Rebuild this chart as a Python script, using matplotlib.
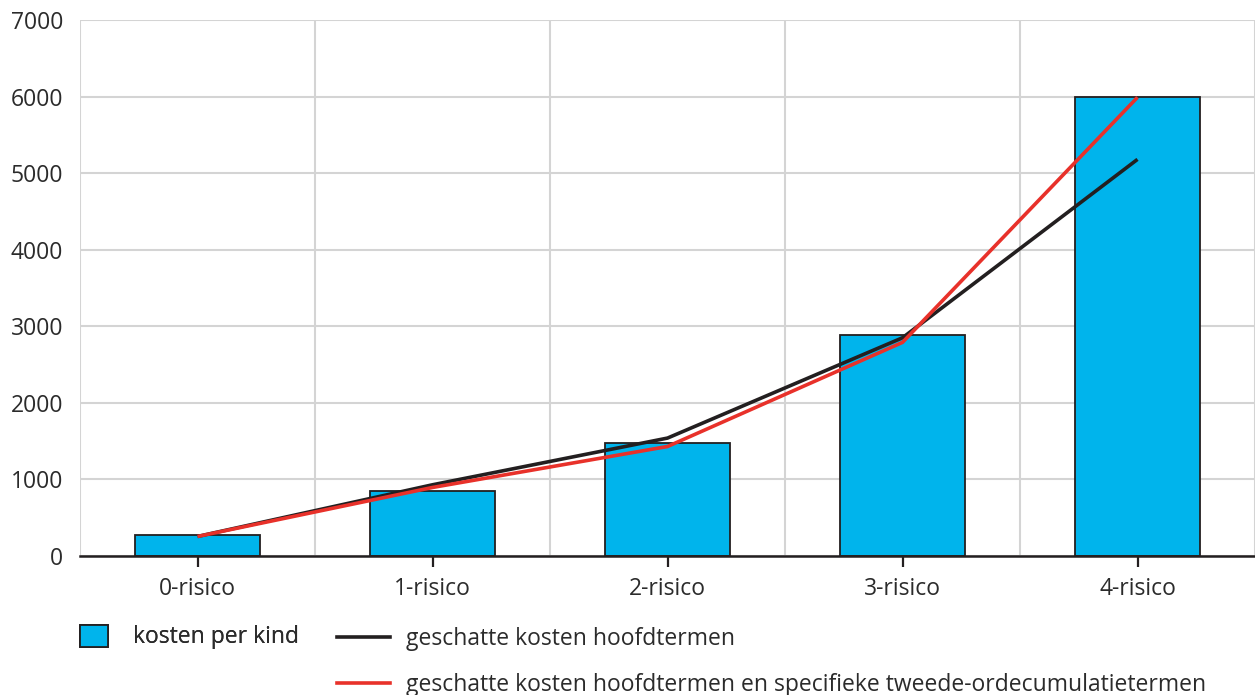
import matplotlib.pyplot as plt
from matplotlib.patches import Patch
from matplotlib.lines import Line2D
import numpy as np

plt.rcParams['font.family'] = ['Open Sans', 'DejaVu Sans']

# Data
categories = ['0-risico', '1-risico', '2-risico', '3-risico', '4-risico']
kosten_per_kind = [275, 850, 1475, 2880, 5990]
hoofdtermen = [255, 930, 1540, 2850, 5180]
tweede_orde = [255, 895, 1430, 2790, 5990]

bar_color = '#00b4ec'
black = '#231f20'
red = '#e8312a'
grid_color = '#d4d4d4'
text_color = '#2b2b2b'
fs = 16.5

fig = plt.figure(figsize=(12.55, 6.95), dpi=100)
ax = fig.add_axes([80 / 1255, 1 - 556 / 695, 1 - 80 / 1255, (556 - 20) / 695])

x = np.arange(len(categories))
ax.bar(x, kosten_per_kind, width=0.53, color=bar_color, edgecolor=black,
       linewidth=1.3, zorder=2)
ax.plot(x, hoofdtermen, color=black, linewidth=2.6, zorder=3,
        solid_capstyle='butt')
ax.plot(x, tweede_orde, color=red, linewidth=2.6, zorder=4,
        solid_capstyle='butt')

ax.set_xlim(-0.5, 4.485)
ax.set_ylim(0, 7000)
ax.set_yticks(range(0, 7001, 1000))
ax.set_xticks(x)
ax.set_xticklabels(categories)
ax.set_xticks(np.arange(-0.5, 4.6, 1), minor=True)

ax.grid(True, axis='y', color=grid_color, linewidth=1.5, zorder=0)
ax.grid(True, axis='x', which='minor', color=grid_color, linewidth=1.5, zorder=0)
ax.grid(False, axis='x', which='major')
ax.set_axisbelow(True)

for side in ['top', 'right', 'left']:
    ax.spines[side].set_visible(False)
ax.spines['bottom'].set_color(black)
ax.spines['bottom'].set_linewidth(1.8)
ax.spines['bottom'].set_zorder(5)

ax.tick_params(axis='y', length=0, pad=12, labelsize=fs, labelcolor=text_color)
ax.tick_params(axis='x', which='major', length=8, width=1.6, color=black,
               pad=7, labelsize=fs, labelcolor=text_color)
ax.tick_params(axis='x', which='minor', length=0)

# legend: square patch on its own, the two lines stacked next to it
leg1 = fig.legend([Patch(facecolor=bar_color, edgecolor=black, linewidth=1.3)],
                  ['kosten per kind'], loc='center left',
                  bbox_to_anchor=(80 / 1255, 1 - 637 / 695), frameon=False,
                  fontsize=fs, labelcolor=text_color, handlelength=1.2,
                  handleheight=1.1, handletextpad=1.1, borderaxespad=0,
                  borderpad=0)
fig.add_artist(leg1)
fig.legend([Line2D([], [], color=black, linewidth=2.6),
            Line2D([], [], color=red, linewidth=2.6)],
           ['geschatte kosten hoofdtermen',
            'geschatte kosten hoofdtermen en specifieke tweede-ordecumulatietermen'],
           loc='upper left', bbox_to_anchor=(337 / 1255, 1 - 627 / 695),
           frameon=False, fontsize=fs, labelcolor=text_color,
           handlelength=2.3, handletextpad=0.7, labelspacing=0.95,
           borderaxespad=0, borderpad=0)

fig.savefig('out.png', dpi=100)
